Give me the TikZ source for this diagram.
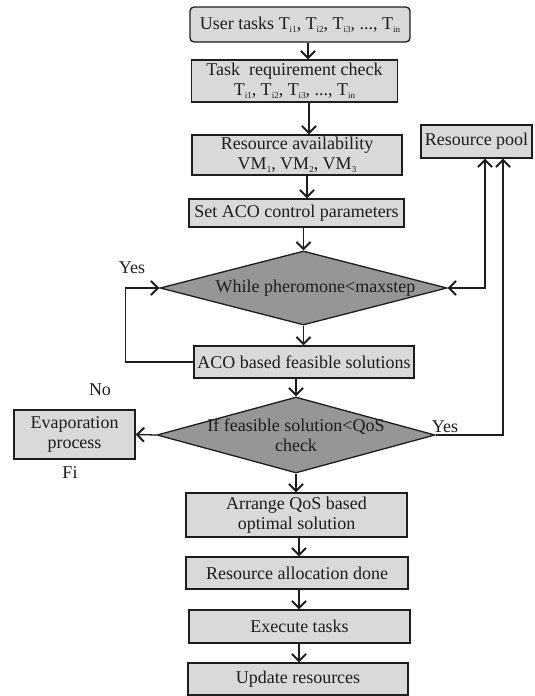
\documentclass[tikz,border=0pt]{standalone}
\usepackage{fontspec}
\setmainfont{Liberation Serif}
\usetikzlibrary{shapes.geometric,arrows.meta}
\definecolor{boxfill}{RGB}{217,217,217}
\definecolor{dfill}{RGB}{150,150,150}
\definecolor{ink}{RGB}{30,28,28}
\newcommand{\smallsub}[1]{\raisebox{-3pt}{\fontsize{9}{9}\selectfont #1}}
\newcommand{\Tsub}[1]{T\smallsub{#1}}
\begin{document}
\begin{tikzpicture}[x=1pt,y=-1pt,
  font=\fontsize{18}{20}\selectfont, text=ink,
  box/.style={draw=ink,fill=boxfill,line width=1.3pt,inner sep=0pt,align=center},
  dia/.style={draw=ink,fill=dfill,line width=1.3pt,diamond,inner sep=0pt},
  tip/.tip={Straight Barb[length=7pt,width=14pt,line width=2pt]},
  flow/.style={draw=ink,line width=1.3pt,-tip},
  flowboth/.style={draw=ink,line width=1.3pt,tip-tip},
  lab/.style={inner sep=0pt}]
\useasboundingbox (0,0) rectangle (535,696);
% boxes
\node[box,rounded corners=4pt,minimum width=220pt,minimum height=35pt] (ut) at (300,24.5) {User tasks \Tsub{i1}, \Tsub{i2}, \Tsub{i3}, ..., \Tsub{in}};
\node[box,minimum width=206pt,minimum height=42pt] (trc) at (294.5,81) {Task~ requirement check\\\Tsub{i1}, \Tsub{i2}, \Tsub{i3}, ..., \Tsub{in}};
\node[box,minimum width=210pt,minimum height=40pt] (ra) at (297,155) {Resource availability\\VM\smallsub{1}, VM\smallsub{2}, VM\smallsub{3}};
\node[box,minimum width=215pt,minimum height=28pt] (sap) at (296.5,213) {Set ACO control parameters};
\node[dia,minimum width=287pt,minimum height=74pt,label={[lab,xshift=12pt]center:While pheromone<maxstep}] (d1) at (303.5,288) {};
\node[box,minimum width=220pt,minimum height=32pt] (aco) at (304,362) {ACO based feasible solutions};
\node[dia,minimum width=278pt,minimum height=76pt,label={[lab,align=center]center:If feasible solution<QoS\\check}] (d2) at (296,435) {};
\node[box,minimum width=121pt,minimum height=49pt] (ev) at (74.5,434.5) {Evaporation\\process};
\node[box,minimum width=111pt,minimum height=33pt] (pool) at (476.5,141.5) {Resource pool};
\node[box,minimum width=221pt,minimum height=44pt] (arr) at (296.5,515) {Arrange QoS based\\optimal solution};
\node[box,minimum width=222pt,minimum height=32pt] (rad) at (297,573) {Resource allocation done};
\node[box,minimum width=221pt,minimum height=33pt] (ex) at (299.5,626.5) {Execute tasks};
\node[box,minimum width=220pt,minimum height=32pt] (up) at (298,679) {Update resources};
% labels
\node[lab] (yes1) at (132,268) {Yes};
\node[lab] (no) at (100,390) {No};
\node[lab] (fi) at (70,473) {Fi};
\node[lab] (yes2) at (445,427) {Yes};
% connectors
\draw[flow] (ut.south -| 308,0) -- (trc.north -| 308,0);
\draw[flow] (trc.south -| 309,0) -- (ra.north -| 309,0);
\draw[flow] (ra.south -| 307,0) -- (sap.north -| 307,0);
\draw[flow] (sap.south -| d1.north) -- (d1.north);
\draw[flow] (d1.south) -- (aco.north -| d1.south);
\draw[flow] (aco.south -| d2.north) -- (d2.north);
\draw[flow] (d2.south) -- (arr.north -| d2.south);
\draw[flow] (arr.south -| 299,0) -- (rad.north -| 299,0);
\draw[flow] (rad.south -| 299,0) -- (ex.north -| 299,0);
\draw[flow] (ex.south -| 299,0) -- (up.north -| 299,0);
\draw[flow] (aco.west) -- ++(-68,0) |- (d1.west);
\draw[flowboth] (d1.east) -| ([xshift=8.5pt]pool.south);
\draw[flow] (d2.east) -| ([xshift=26.5pt]pool.south);
\draw[flow] (d2.west) -- (ev.east);
\end{tikzpicture}
\end{document}
